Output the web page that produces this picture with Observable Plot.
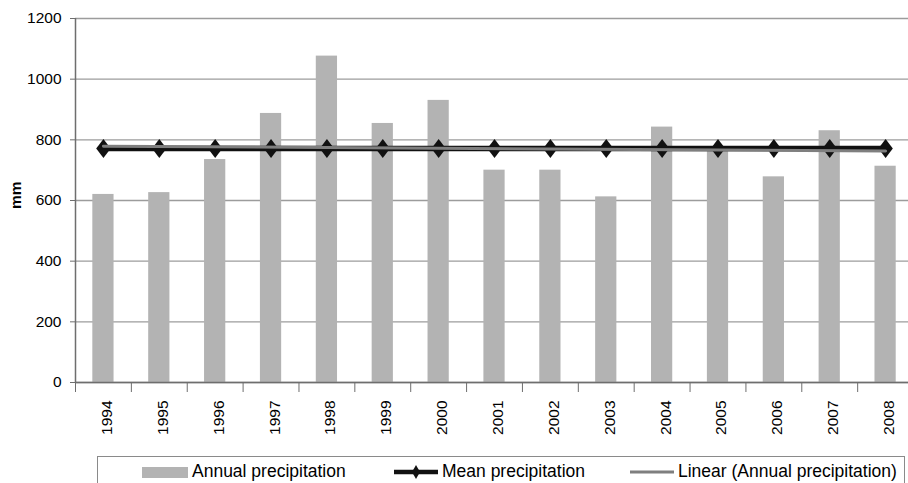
<!DOCTYPE html>
<html>
<head>
<meta charset="utf-8">
<script src="https://cdn.jsdelivr.net/npm/d3@7"></script>
<script src="https://cdn.jsdelivr.net/npm/@observablehq/plot@0.6"></script>
<style>
  html, body { margin: 0; padding: 0; background: #fff; overflow: hidden; }
  body { width: 908px; height: 483px; position: relative; font-family: "Liberation Sans", Arial, sans-serif; }
  #chart { position: absolute; left: 0; top: 0; }
  #ylabel { position: absolute; left: 6px; top: 199px; font-size: 15.5px; font-weight: bold; color: #000;
            transform: translate(0, -50%) rotate(-90deg); transform-origin: center; width: 20px; text-align: center; }
  #legend { position: absolute; left: 97px; top: 456px; width: 808px; height: 60px; border: 1px solid #8a8a8a; box-sizing: border-box; }
  .item { position: absolute; top: 4px; font-size: 17.5px; color: #000; white-space: nowrap; line-height: 20px; }
  .item svg { position: absolute; left: 0; top: 0; }
</style>
</head>
<body>
<div id="chart"></div>
<div id="ylabel">mm</div>
<div id="legend"></div>
<script>
// Annual precipitation, 1994–2008 (mm)
const years = [1994, 1995, 1996, 1997, 1998, 1999, 2000, 2001, 2002, 2003, 2004, 2005, 2006, 2007, 2008];
const precipitation = [620, 626, 735, 887, 1076, 854, 930, 700, 700, 612, 842, 765, 678, 830, 713];
const yTicks = [0, 200, 400, 600, 800, 1000, 1200];
const seriesNames = ["Annual precipitation", "Mean precipitation", "Linear (Annual precipitation)"];

const rows = years.map((year, i) => ({year, value: precipitation[i]}));
const meanPrecipitation = d3.mean(precipitation);
// category boundaries carry the tick marks, labels sit at the category centres
const boundaries = years.map(y => y - 0.5);

// tall diamond marker
const diamond = {
  draw(context, size) {
    const r = Math.sqrt(size / Math.PI);
    const w = r * 0.76;
    context.moveTo(0, -r);
    context.lineTo(w, 0);
    context.lineTo(0, r);
    context.lineTo(-w, 0);
    context.closePath();
  }
};

const axisColor = "#6e6e6e";
const font = "'Liberation Sans', Arial, sans-serif";

const chart = Plot.plot({
  width: 908,
  height: 450,
  marginLeft: 75,
  marginRight: 0,
  marginTop: 18,
  marginBottom: 68,
  style: {fontFamily: font, color: "#000", background: "#fff"},
  x: {type: "linear", domain: [1993.5, 2008.41]},
  y: {domain: [0, 1200]},
  marks: [
    Plot.gridY(yTicks, {stroke: "#9c9c9c", strokeOpacity: 1, strokeWidth: 1.4}),
    Plot.rectY(rows, {x1: d => d.year - 0.19, x2: d => d.year + 0.19, y: "value", fill: "#b3b3b3"}),
    Plot.ruleX([1993.5], {stroke: axisColor, strokeWidth: 1.5}),
    Plot.ruleY([0], {stroke: axisColor, strokeWidth: 1.5}),
    Plot.axisY(yTicks, {tickSize: 5, tickPadding: 9, fontSize: 15.5, label: null, stroke: axisColor, tickFormat: d => String(d)}),
    Plot.axisX(boundaries, {tickSize: 10, stroke: axisColor, tickFormat: () => "", label: null}),
    Plot.axisX(years, {tickSize: 0, tickPadding: 18, tickRotate: -90, fontSize: 15.5, dx: 3.5, label: null, tickFormat: d => String(d)}),
    Plot.lineY(rows, {x: "year", y: () => meanPrecipitation, stroke: "#111", strokeWidth: 5.5}),
    Plot.dot(rows, {x: "year", y: () => meanPrecipitation, symbol: diamond, r: 9.5, fill: "#111", stroke: "none"}),
    Plot.linearRegressionY(rows, {x: "year", y: "value", ci: 0, stroke: "#7f7f7f", strokeWidth: 3})
  ]
});
document.getElementById("chart").append(chart);

// legend
const legend = document.getElementById("legend");
const items = [
  {left: 44, swatch: `<rect x="0" y="6" width="46" height="11" fill="#b3b3b3"/>`, sw: 46},
  {left: 296, swatch: `<line x1="0" y1="11" x2="44" y2="11" stroke="#111" stroke-width="4.5"/><path d="M22,4 L26,11 L22,18 L18,11 Z" fill="#111"/>`, sw: 44},
  {left: 532, swatch: `<line x1="0" y1="11" x2="44" y2="11" stroke="#7f7f7f" stroke-width="3"/>`, sw: 44}
];
items.forEach((it, i) => {
  const div = document.createElement("div");
  div.className = "item";
  div.style.left = it.left + "px";
  div.innerHTML = `<svg width="${it.sw}" height="22">${it.swatch}</svg><span style="margin-left:${it.sw + 4}px">${seriesNames[i]}</span>`;
  legend.append(div);
});
</script>
</body>
</html>
